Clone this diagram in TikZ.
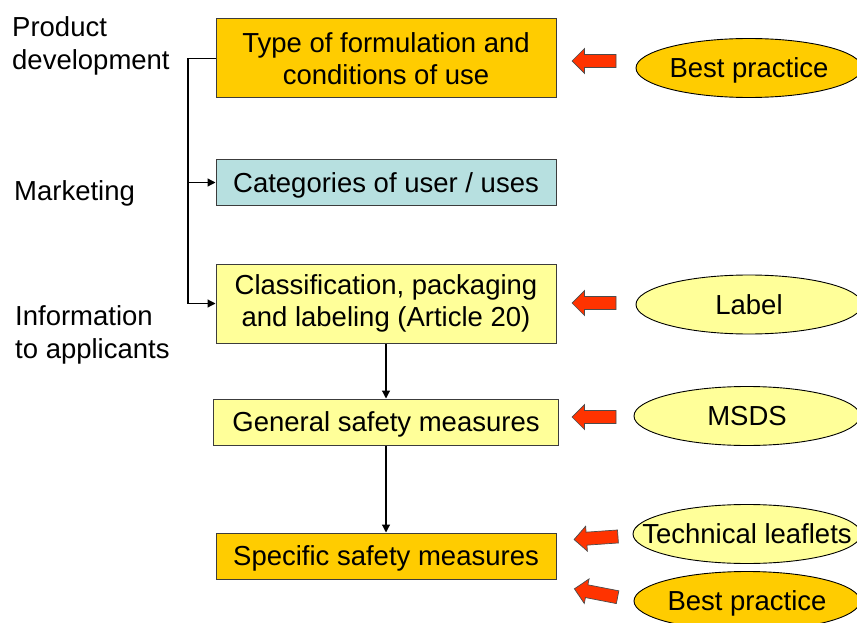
\documentclass[tikz,border=0pt]{standalone}
\usepackage{fontspec}
\setmainfont{Liberation Sans}
\usetikzlibrary{shapes.geometric,arrows.meta}
\definecolor{orng}{RGB}{255,204,0}
\definecolor{lyel}{RGB}{255,255,153}
\definecolor{lblue}{RGB}{183,224,224}
\definecolor{redarr}{RGB}{255,51,0}
\definecolor{bord}{RGB}{60,60,60}
\tikzset{
  box/.style={draw=bord, line width=1pt, minimum width=340pt, inner sep=0pt, align=center,
    font=\fontsize{27.5}{32}\selectfont},
  oneline/.style={text depth=0pt},
  oval/.style={ellipse, draw=black, line width=0.9pt, minimum width=226pt, minimum height=59pt,
    inner sep=0pt, text depth=0pt, font=\fontsize{27.5}{32}\selectfont},
  side/.style={anchor=west, align=left, inner sep=0pt, font=\fontsize{27.5}{33}\selectfont},
  conn/.style={line width=1.2pt, -{Triangle[length=8pt,width=8pt]}},
  blockarrow/.style={draw=black!70, line width=0.7pt, fill=redarr},
}
\newcommand{\leftblockarrow}[3]{%
  \draw[blockarrow, shift={(#1,#2)}, rotate=#3]
    (-22,0) -- (-9.5,12.5) -- (-9.5,6.5) -- (22,6.5) -- (22,-6.5) -- (-9.5,-6.5) -- (-9.5,-12.5) -- cycle;}
\begin{document}
\begin{tikzpicture}[x=1pt,y=-1pt]
\useasboundingbox (0,0) rectangle (857,623);
% main boxes
\node[box, fill=orng, minimum height=79pt] (b1) at (386,58.5) {Type of formulation and\\conditions of use};
\node[box, oneline, fill=lblue, minimum height=46pt] (b2) at (386,182.5) {Categories of user / uses};
\node[box, fill=lyel, minimum height=79pt] (b3) at (386,303.5) {Classification, packaging\\and labeling (Article 20)};
\node[box, oneline, fill=lyel, minimum height=46pt, minimum width=345pt] (b4) at (386,422) {General safety measures};
\node[box, oneline, fill=orng, minimum height=46pt] (b5) at (386,556) {Specific safety measures};
% side labels
\node[side] (l1) at (12,46) {Product\\development};
\node[side] (l2) at (14,193) {Marketing};
\node[side] (l3) at (15,335) {Information\\to applicants};
% connectors
\coordinate (trunk) at (188,0);
\draw[conn] (b1.west) -- (b1.west -| trunk) |- (b3.west);
\draw[conn] (b2.west -| trunk) -- (b2.west);
\draw[conn] (b3.south) -- (b4.north);
\draw[conn] (b4.south) -- (b5.north);
% ellipses
\node[oval, fill=orng] (e1) at (749,68) {Best practice};
\node[oval, fill=lyel] (e2) at (749,304.5) {Label};
\node[oval, fill=lyel] (e3) at (747,416) {MSDS};
\node[oval, fill=lyel, minimum width=228pt] (e4) at (747,534) {\makebox[0pt]{Technical leaflets}};
\node[oval, fill=orng] (e5) at (747,601) {Best practice};
% red block arrows
\leftblockarrow{594}{61}{0}
\leftblockarrow{594}{303}{0}
\leftblockarrow{594}{417}{0}
\leftblockarrow{596}{538}{4}
\leftblockarrow{596}{593}{-11}
\end{tikzpicture}
\end{document}
